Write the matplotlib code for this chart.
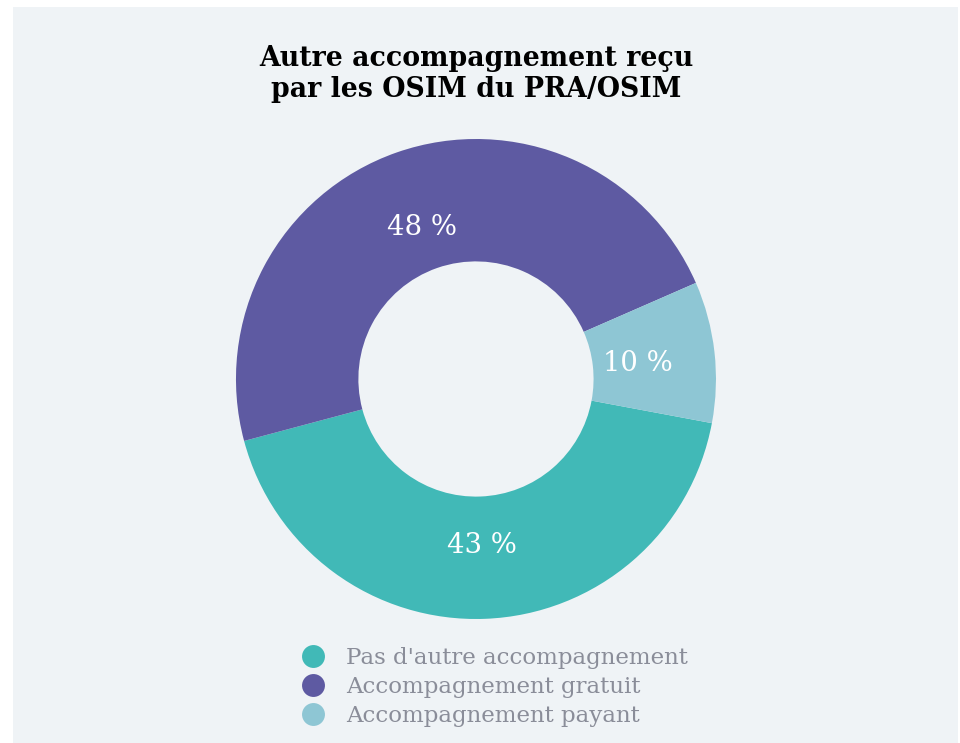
import numpy as np
import matplotlib.pyplot as plt
from matplotlib.lines import Line2D
from matplotlib.patches import Rectangle

# data
categories = ["Pas d'autre accompagnement", "Accompagnement gratuit", "Accompagnement payant"]
shares = [42.9, 47.6, 9.5]
share_labels = ["43 %", "48 %", "10 %"]
colors = ["#41b9b7", "#5e5aa2", "#8ec6d4"]

title = "Autre accompagnement reçu\npar les OSIM du PRA/OSIM"

bg = "#eff3f6"
fig = plt.figure(figsize=(9.6, 7.43), dpi=100)
fig.patch.set_facecolor("white")
fig.patches.append(Rectangle((13 / 960, 0), (958 - 13) / 960, 1 - 7 / 743,
                             transform=fig.transFigure, facecolor=bg,
                             edgecolor="none", zorder=-10))

ax = fig.add_axes([0.2458, 0.1669, 0.5, 480 / 743])
ax.set_facecolor("none")
wedges, texts = ax.pie(shares, labels=share_labels, colors=colors,
                       startangle=-10.6, counterclock=False, radius=1.0,
                       labeldistance=0.68,
                       wedgeprops=dict(width=0.51, edgecolor="none"),
                       textprops=dict(color="white", fontsize=19.8,
                                      family="DejaVu Serif"))
for t in texts:
    t.set_ha("center")
    t.set_va("center_baseline")
ax.set_xlim(-1, 1)
ax.set_ylim(-1, 1)
ax.set_aspect("equal")
ax.axis("off")

fig.text(0.4958, 1 - 74 / 743, title, ha="center", va="center",
         fontsize=19.3, fontweight="bold", family="DejaVu Serif",
         color="black", linespacing=1.22)

handles = [Line2D([], [], marker="o", linestyle="none", markersize=16.5,
                  markerfacecolor=c, markeredgecolor="none") for c in colors]
leg = fig.legend(handles, categories, loc="center left",
                 bbox_to_anchor=(299 / 960, 1 - 687 / 743), frameon=False,
                 handlelength=1.2, handletextpad=0.85, labelspacing=0.3,
                 borderpad=0, borderaxespad=0,
                 prop=dict(family="DejaVu Serif", size=16.5))
for t in leg.get_texts():
    t.set_color("#8a8d99")

fig.savefig("out.png", dpi=100, facecolor=fig.get_facecolor())
